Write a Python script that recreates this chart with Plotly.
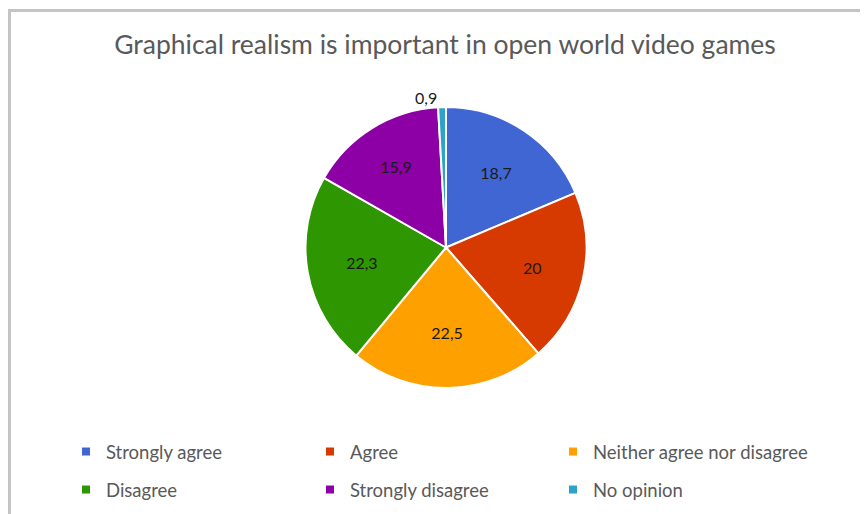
import plotly.graph_objects as go

labels = ["Strongly agree", "Agree", "Neither agree nor disagree", "Disagree", "Strongly disagree", "No opinion"]
values = [18.7, 20, 22.5, 22.3, 15.9, 0.9]
colors = ["#4066d4", "#d63a00", "#fda000", "#2e9600", "#8c00a6", "#2ea3c9"]
text_positions = ["inside", "inside", "inside", "inside", "inside", "outside"]
title_text = "Graphical realism is important in open world video games"

# page has an 8px body margin, so the figure is 8px smaller than the window
W, H = 860, 506


def px(x):
    return x / W


def py(y):
    return 1 - y / H


fig = go.Figure()
fig.add_trace(go.Pie(
    labels=labels,
    values=values,
    sort=False,
    direction="clockwise",
    rotation=0,
    marker=dict(colors=colors, line=dict(color="white", width=2)),
    texttemplate="%{value}",
    textposition=text_positions,
    insidetextorientation="horizontal",
    textfont=dict(size=16, color="#1a1a1a", family="Lato"),
    domain=dict(x=[px(297.5), px(578.5)], y=[py(380), py(99)]),
    hoverinfo="label+value",
    showlegend=False,
))

# legend: one small legend per entry, laid out as 3 columns x 2 rows
legend_ids = ["legend", "legend2", "legend3", "legend4", "legend5", "legend6"]
for lab, col, lg in zip(labels, colors, legend_ids):
    fig.add_trace(go.Scatter(
        x=[None], y=[None], mode="markers", name=lab,
        marker=dict(symbol="square", size=8, color=col),
        legend=lg, hoverinfo="skip",
    ))

col_x = [58, 302, 545]
row_y = [425, 463]
legend_layout = {}
for i, lg in enumerate(legend_ids):
    legend_layout[lg] = dict(
        orientation="h", xanchor="left", yanchor="top",
        x=px(col_x[i % 3]), y=py(row_y[i // 3]),
        font=dict(size=18.5, color="#595959", family="Lato"),
        bgcolor="rgba(0,0,0,0)",
    )

fig.update_layout(
    width=W, height=H,
    margin=dict(l=0, r=0, t=0, b=0),
    paper_bgcolor="white",
    plot_bgcolor="white",
    separators=", ",
    font=dict(family="Lato", color="#595959"),
    xaxis=dict(visible=False),
    yaxis=dict(visible=False),
    title=dict(text=title_text, x=px(437), xanchor="center", y=py(37), yanchor="middle",
               font=dict(size=26.5, color="#595959", family="Lato")),
    shapes=[
        dict(type="line", xref="paper", yref="paper", x0=0, x1=1.0, y0=py(2.5), y1=py(2.5),
             line=dict(color="#c4c4c4", width=3)),
        dict(type="line", xref="paper", yref="paper", x0=px(1.5), x1=px(1.5), y0=0, y1=py(1),
             line=dict(color="#c4c4c4", width=3)),
    ],
    **legend_layout,
)

fig.write_html("out.html")
